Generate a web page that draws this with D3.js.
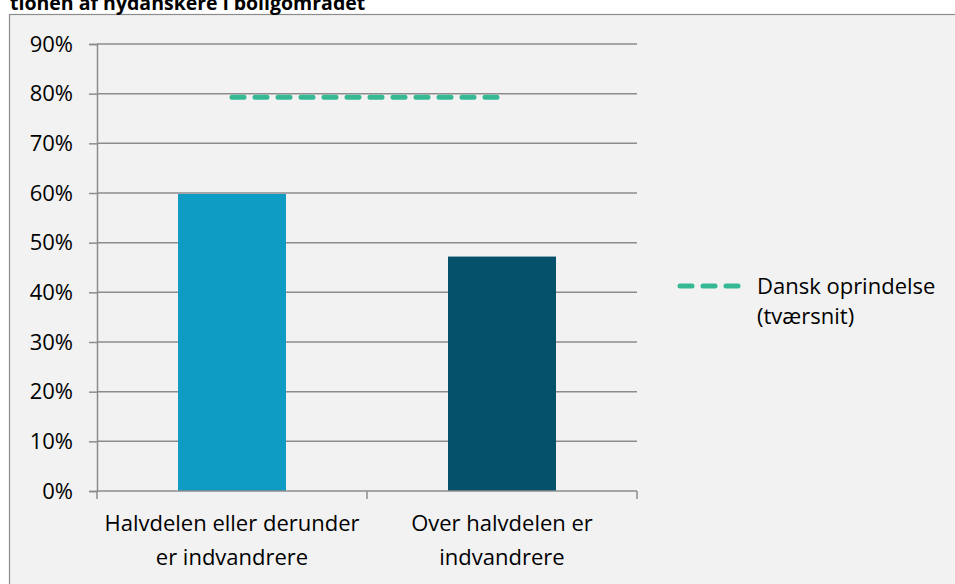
<!DOCTYPE html>
<html lang="da">

<head>
    <meta charset="UTF-8">
    <title>Nydanskere i boligområdet</title>
    <style>
        body {
            margin: 0;
            background: white;
        }

        #svg {
            display: block;
            font-family: "Open Sans", "Noto Sans", sans-serif;
        }
    </style>
    <script src="https://d3js.org/d3.v7.min.js"></script>
</head>

<body>
    <svg id="svg"></svg>
    <script>
        const categories = [
            ['Halvdelen eller derunder', 'er indvandrere'],
            ['Over halvdelen er', 'indvandrere']
        ];
        const barValues = [0.598, 0.472];
        const barColors = ['#0e9cc5', '#05506b'];
        const lineValues = [0.793, 0.793];
        const lineName = ['Dansk oprindelse', '(tværsnit)'];
        const yTicks = [0, 0.1, 0.2, 0.3, 0.4, 0.5, 0.6, 0.7, 0.8, 0.9];
        const title = 'tionen af nydanskere i boligområdet';

        const width = 955;
        const height = 584;
        const margin = { left: 97, right: 318, top: 44, bottom: 93 };
        const fontSize = 22;

        const svg = d3.select('#svg')
            .attr('width', width)
            .attr('height', height);

        // chart frame
        svg.append('rect')
            .attr('x', 9.5)
            .attr('y', 14.5)
            .attr('width', width)
            .attr('height', height)
            .attr('fill', '#f2f2f2')
            .attr('stroke', '#8c8c8c')
            .attr('stroke-width', 1.2);

        svg.append('text')
            .attr('x', 10)
            .attr('y', 10)
            .attr('font-weight', 'bold')
            .attr('font-size', 19.5)
            .attr('fill', '#000')
            .text(title);

        const x = d3.scaleBand()
            .domain(d3.range(categories.length))
            .range([margin.left, width - margin.right])
            .paddingInner(0.6)
            .paddingOuter(0.3);

        const y = d3.scaleLinear()
            .domain([0, 0.9])
            .range([height - margin.bottom, margin.top]);

        // gridlines
        svg.append('g')
            .selectAll('line')
            .data(yTicks.slice(1))
            .enter()
            .append('line')
            .attr('x1', margin.left)
            .attr('x2', width - margin.right)
            .attr('y1', d => y(d))
            .attr('y2', d => y(d))
            .attr('stroke', '#8c8c8c')
            .attr('stroke-width', 1.5);

        // bars
        svg.append('g')
            .selectAll('rect')
            .data(barValues)
            .enter()
            .append('rect')
            .attr('x', (d, i) => x(i))
            .attr('width', x.bandwidth())
            .attr('y', d => y(d))
            .attr('height', d => y(0) - y(d))
            .attr('fill', (d, i) => barColors[i]);

        // y axis
        const yAxis = svg.append('g')
            .attr('transform', 'translate(' + margin.left + ',0)')
            .call(d3.axisLeft(y)
                .tickValues(yTicks)
                .tickFormat(d3.format('.0%'))
                .tickSize(8)
                .tickPadding(16));
        yAxis.select('.domain').attr('stroke', '#8c8c8c').attr('stroke-width', 1.5);
        yAxis.selectAll('.tick line').attr('stroke', '#8c8c8c').attr('stroke-width', 1.5);
        yAxis.selectAll('.tick text')
            .attr('font-size', fontSize)
            .attr('fill', '#000')
            .attr('font-family', '"Open Sans", sans-serif');

        // x axis (ticks on category boundaries)
        const bandW = (width - margin.right - margin.left) / categories.length;
        const xAxis = svg.append('g');
        xAxis.append('line')
            .attr('x1', margin.left)
            .attr('x2', width - margin.right)
            .attr('y1', y(0))
            .attr('y2', y(0))
            .attr('stroke', '#8c8c8c')
            .attr('stroke-width', 1.5);
        xAxis.selectAll('.xt')
            .data(d3.range(categories.length + 1))
            .enter()
            .append('line')
            .attr('class', 'xt')
            .attr('x1', i => margin.left + i * bandW)
            .attr('x2', i => margin.left + i * bandW)
            .attr('y1', y(0))
            .attr('y2', y(0) + 8)
            .attr('stroke', '#8c8c8c')
            .attr('stroke-width', 1.5);

        const labels = svg.append('g')
            .selectAll('text')
            .data(categories)
            .enter()
            .append('text')
            .attr('text-anchor', 'middle')
            .attr('font-size', fontSize)
            .attr('fill', '#000');
        labels.selectAll('tspan')
            .data((d, i) => d.map(t => ({ t: t, i: i })))
            .enter()
            .append('tspan')
            .attr('x', d => x(d.i) + x.bandwidth() / 2)
            .attr('y', (d, j) => y(0) + 40 + j * 34)
            .text(d => d.t);

        // dashed line series
        const line = d3.line()
            .x((d, i) => x(i) + x.bandwidth() / 2)
            .y(d => y(d));
        svg.append('path')
            .datum(lineValues)
            .attr('d', line)
            .attr('fill', 'none')
            .attr('stroke', '#35b994')
            .attr('stroke-width', 5)
            .attr('stroke-linecap', 'round')
            .attr('stroke-dasharray', '12,11');

        // legend
        const legend = svg.append('g');
        legend.append('line')
            .attr('x1', 680)
            .attr('x2', 740)
            .attr('y1', 286)
            .attr('y2', 286)
            .attr('stroke', '#35b994')
            .attr('stroke-width', 5)
            .attr('stroke-linecap', 'round')
            .attr('stroke-dasharray', '12,11');
        legend.append('text')
            .attr('font-size', fontSize)
            .attr('fill', '#000')
            .selectAll('tspan')
            .data(lineName)
            .enter()
            .append('tspan')
            .attr('x', 757)
            .attr('y', (d, i) => 294 + i * 30)
            .text(d => d);
    </script>
</body>

</html>
